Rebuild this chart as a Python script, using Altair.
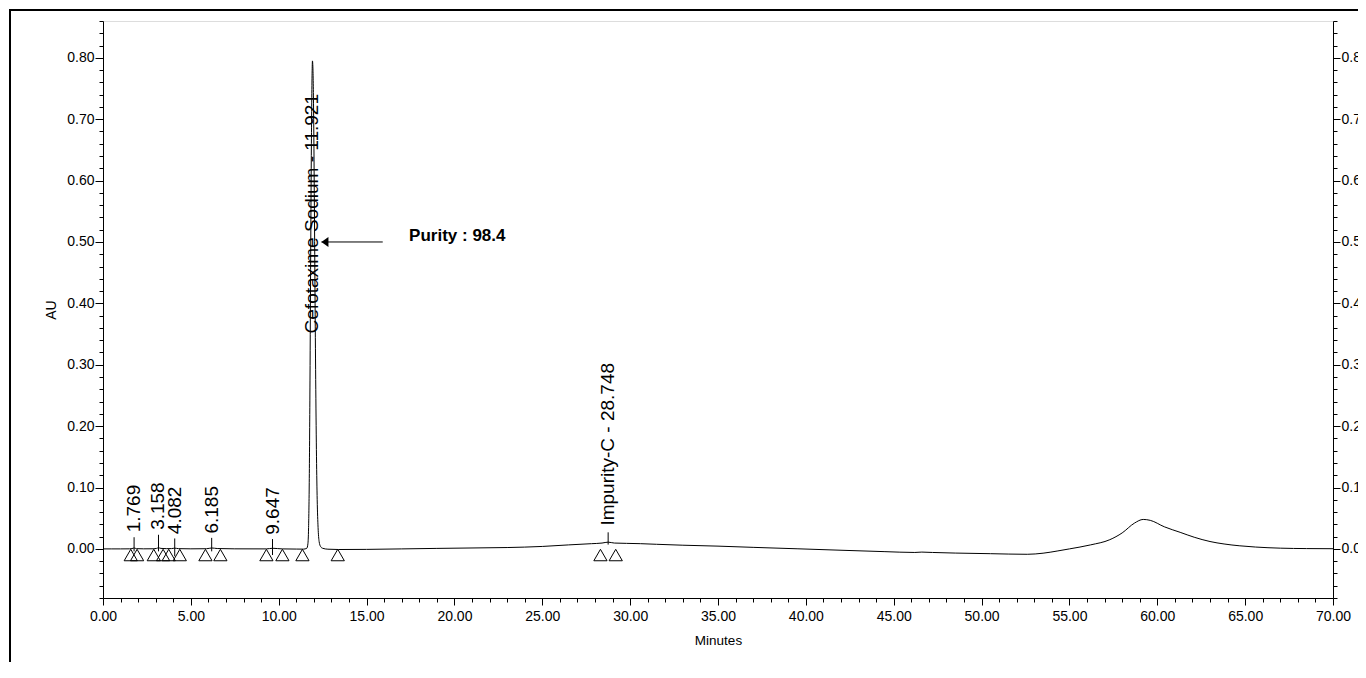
import altair as alt
import pandas as pd

# ---------------- data ----------------
trace_t = [0.00, 0.50, 1.00, 1.50, 1.65, 1.77, 1.90, 2.30, 2.90, 3.05, 3.16, 3.30, 3.60,
           3.90, 4.08, 4.30, 5.00, 5.90, 6.19, 6.50, 7.50, 9.30, 9.65, 10.20, 11.00,
           11.40, 11.60, 11.66, 11.70, 11.74, 11.78, 11.82, 11.86, 11.90, 11.92, 11.95,
           11.99, 12.03, 12.07, 12.11, 12.15, 12.19, 12.24, 12.30, 12.38, 12.50, 12.80,
           13.40, 15.00, 17.00, 19.00, 21.00, 23.00, 25.00, 26.50, 27.80, 28.40, 28.75,
           29.10, 29.80, 30.60, 31.50, 33.00, 35.00, 37.00, 39.50, 42.00, 44.50, 46.20,
           46.60, 47.20, 48.50, 50.50, 52.60, 53.50, 54.30, 55.00, 56.20, 57.30, 58.00,
           58.70, 59.20, 59.60, 60.40, 61.30, 62.10, 63.00, 63.80, 64.70, 65.60, 67.00,
           68.50, 70.00]
trace_au = [0.0000, 0.0000, 0.0000, 0.0001, 0.0005, 0.0015, 0.0004, 0.0001, 0.0002, 0.0008,
            0.0018, 0.0008, 0.0004, 0.0005, 0.0012, 0.0004, 0.0001, 0.0003, 0.0015, 0.0006,
            0.0001, 0.0000, 0.0010, 0.0000, -0.0003, -0.0004, 0.0010, 0.0080, 0.0350,
            0.1150, 0.2750, 0.4800, 0.6600, 0.7750, 0.7950, 0.7800, 0.7000, 0.5600, 0.4000,
            0.2600, 0.1500, 0.0800, 0.0350, 0.0120, 0.0040, 0.0010, -0.0005, -0.0010,
            -0.0008, 0.0000, 0.0008, 0.0015, 0.0022, 0.0040, 0.0065, 0.0085, 0.0095,
            0.0110, 0.0095, 0.0090, 0.0085, 0.0075, 0.0060, 0.0045, 0.0025, 0.0002,
            -0.0022, -0.0045, -0.0058, -0.0052, -0.0058, -0.0068, -0.0078, -0.0088,
            -0.0070, -0.0035, 0.0000, 0.0065, 0.0150, 0.0260, 0.0420, 0.0480, 0.0465,
            0.0360, 0.0270, 0.0190, 0.0120, 0.0080, 0.0050, 0.0030, 0.0012, 0.0005, 0.0003]

peak_names = ["1.769", "3.158", "4.082", "6.185", "9.647",
              "Cefotaxime Sodium - 11.921", "Impurity-C - 28.748"]
peak_t = [1.769, 3.158, 4.082, 6.185, 9.647, 11.921, 28.748]
peak_label_au = [0.027, 0.031, 0.024, 0.025, 0.023, 0.351, 0.038]

tick_t = [1.769, 3.158, 4.082, 6.185, 9.647, 28.748]
tick_lo = [-0.004, -0.004, -0.012, -0.004, -0.010, 0.007]
tick_hi = [0.019, 0.023, 0.017, 0.018, 0.016, 0.027]

marker_t = [1.58, 1.94, 2.89, 3.42, 3.74, 4.37, 5.83, 6.68, 9.30, 10.21, 11.35, 13.36,
            28.31, 29.18]
marker_au = [-0.010] * len(marker_t)

purity_text = ["Purity : 98.4"]
purity_t = [17.42]
purity_au = [0.502]
arrow_t = [12.43]
arrow_t2 = [15.92]
arrow_au = [0.50]

x_ticks = list(range(0, 71))
y_ticks = [round(-0.08 + 0.02 * i, 2) for i in range(48)]

FONT = "Liberation Sans"
XDOM = [0, 70]
YDOM = [-0.08, 0.86]

trace = pd.DataFrame({"t": trace_t, "au": trace_au})
peaks = pd.DataFrame({"name": peak_names, "t": peak_t, "au": peak_label_au})
ticks = pd.DataFrame({"t": tick_t, "lo": tick_lo, "hi": tick_hi})
markers = pd.DataFrame({"t": marker_t, "au": marker_au})
purity = pd.DataFrame({"txt": purity_text, "t": purity_t, "au": purity_au})
arrow = pd.DataFrame({"t": arrow_t, "t2": arrow_t2, "au": arrow_au})

major_y = "round(datum.value*50) % 5 === 0"
major_x = "datum.value % 5 === 0"

x_axis = alt.Axis(
    values=x_ticks,
    labelExpr=f"{major_x} ? format(datum.value, '.2f') : ''",
    tickSize={"condition": {"test": major_x, "value": 7}, "value": 4},
    title="Minutes", titleFontSize=13.5, titleFontWeight="normal", titlePadding=10,
    labelFontSize=14, labelPadding=4, labelOverlap=False, labelFlush=False,
    grid=False, domainColor="black", tickColor="black", labelColor="black",
    titleColor="black", labelFont=FONT, titleFont=FONT,
)

def y_axis(orient, title):
    kw = dict(
        orient=orient,
        values=y_ticks,
        labelExpr=f"{major_y} ? format(datum.value, '.2f') : ''",
        tickSize={"condition": {"test": major_y, "value": 8 if orient == "left" else 7}, "value": 4},
        labelFontSize=14, labelPadding=1, labelOverlap=False, labelFlush=False,
        grid=False, domainColor="black", tickColor="black", labelColor="black",
        labelFont=FONT,
    )
    if title:
        kw.update(title=title, titleFontSize=14, titleFontWeight="normal",
                  titlePadding=8, titleColor="black", titleFont=FONT)
    else:
        kw.update(title=None)
    return alt.Axis(**kw)

xs = alt.Scale(domain=XDOM, nice=False, zero=False)
ys = alt.Scale(domain=YDOM, nice=False, zero=False)

X = alt.X("t:Q", scale=xs, axis=x_axis)

border = alt.Chart(pd.DataFrame({"k": [0]})).mark_rect(
    fillOpacity=0, stroke="black", strokeWidth=2
).encode(
    x=alt.value(-93), x2=alt.value(1400), y=alt.value(-11), y2=alt.value(700)
)

line = alt.Chart(trace).mark_line(
    color="black", strokeWidth=1, interpolate="monotone"
).encode(x=X, y=alt.Y("au:Q", scale=ys, axis=y_axis("left", "AU")))

right_axis = alt.Chart(trace).mark_line(opacity=0).encode(
    x=X, y=alt.Y("au:Q", scale=ys, axis=y_axis("right", None))
)

tri = alt.Chart(markers).mark_point(
    shape="triangle-up", size=175, filled=False, stroke="black", strokeWidth=1, opacity=1
).encode(x=X, y=alt.Y("au:Q", scale=ys, axis=None))

tick_rules = alt.Chart(ticks).mark_rule(color="black", strokeWidth=1).encode(
    x=X, y=alt.Y("lo:Q", scale=ys, axis=None), y2="hi:Q"
)

labels = alt.Chart(peaks).mark_text(
    angle=270, align="left", baseline="middle", fontSize=19, font=FONT, color="black"
).encode(x=X, y=alt.Y("au:Q", scale=ys, axis=None), text="name:N")

arrow_line = alt.Chart(arrow).mark_rule(color="black", strokeWidth=1).encode(
    x=X, x2="t2:Q", y=alt.Y("au:Q", scale=ys, axis=None)
)

arrow_head = alt.Chart(arrow).mark_point(
    shape="M0,0L1.4,-1L1.4,1Z", size=100, filled=True, color="black", opacity=1
).encode(x=X, y=alt.Y("au:Q", scale=ys, axis=None))

purity_lbl = alt.Chart(purity).mark_text(
    align="left", baseline="alphabetic", fontSize=17, fontWeight="bold", font=FONT,
    color="black"
).encode(x=X, y=alt.Y("au:Q", scale=ys, axis=None), text="txt:N")

chart = alt.layer(
    border, line, right_axis, tri, tick_rules, labels, arrow_line, arrow_head, purity_lbl
).resolve_axis(y="independent").resolve_scale(y="shared").properties(
    width=1230, height=577,
    autosize=alt.AutoSizeParams(type="none"),
    padding={"left": 95, "top": 13, "right": 25, "bottom": 64},
).configure_view(stroke="#808080", strokeWidth=1).configure(background="white")

chart.save("out.html", embed_options={"renderer": "svg", "actions": False})
